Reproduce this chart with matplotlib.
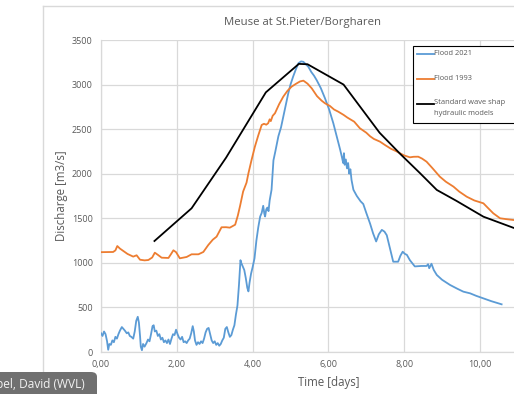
import matplotlib
matplotlib.use("Agg")
import matplotlib.pyplot as plt
from matplotlib.lines import Line2D
from matplotlib.patches import Rectangle, FancyBboxPatch
from matplotlib.ticker import FuncFormatter, MultipleLocator, FixedLocator

# ---- data ----
t2021 = [0.00, 0.04, 0.08, 0.12, 0.16, 0.19, 0.22, 0.26, 0.30, 0.34, 0.38, 0.42, 0.46, 0.50, 0.55, 0.59,
         0.63, 0.68, 0.72, 0.76, 0.80, 0.85, 0.89, 0.93, 0.97, 1.00, 1.03, 1.05, 1.08, 1.11, 1.15, 1.20,
         1.24, 1.28, 1.32, 1.36, 1.39, 1.42, 1.46, 1.50, 1.54, 1.58, 1.62, 1.66, 1.70, 1.74, 1.78, 1.82,
         1.86, 1.90, 1.94, 1.98, 2.02, 2.06, 2.10, 2.14, 2.18, 2.22, 2.26, 2.30, 2.34, 2.38, 2.42, 2.45,
         2.48, 2.52, 2.56, 2.60, 2.64, 2.68, 2.72, 2.76, 2.80, 2.84, 2.88, 2.92, 2.96, 3.00, 3.04, 3.08,
         3.12, 3.16, 3.20, 3.24, 3.28, 3.32, 3.36, 3.40, 3.44, 3.48, 3.52, 3.56, 3.60, 3.64, 3.68, 3.70,
         3.74, 3.78, 3.82, 3.86, 3.89, 3.92, 3.96, 4.00, 4.05, 4.10, 4.15, 4.20, 4.24, 4.28, 4.31, 4.33,
         4.36, 4.39, 4.42, 4.45, 4.50, 4.55, 4.60, 4.68, 4.75, 4.81, 4.88, 4.94, 5.00, 5.07, 5.14, 5.21,
         5.28, 5.34, 5.40, 5.47, 5.55, 5.62, 5.69, 5.80, 5.91, 6.02, 6.13, 6.22, 6.31, 6.36, 6.39, 6.41,
         6.43, 6.46, 6.49, 6.52, 6.55, 6.58, 6.61, 6.66, 6.75, 6.85, 6.92, 7.00, 7.10, 7.18, 7.26, 7.33,
         7.41, 7.48, 7.54, 7.62, 7.71, 7.84, 7.90, 7.96, 8.02, 8.07, 8.15, 8.28, 8.45, 8.59, 8.63, 8.66,
         8.72, 8.78, 8.86, 9.00, 9.21, 9.40, 9.56, 9.74, 9.90, 10.09, 10.30, 10.57]
q2021 = [210, 180, 230, 200, 120, 25, 90, 80, 130, 110, 170, 150, 200, 240, 280, 260,
         240, 210, 220, 180, 170, 150, 230, 350, 395, 330, 180, 60, 20, 90, 60, 100,
         140, 120, 200, 290, 300, 230, 240, 180, 200, 140, 160, 110, 130, 100, 140, 90,
         150, 200, 190, 250, 200, 160, 140, 170, 110, 120, 100, 130, 150, 210, 290, 230,
         130, 80, 110, 90, 120, 100, 150, 220, 260, 270, 200, 130, 100, 120, 80, 100,
         70, 90, 130, 160, 260, 280, 220, 170, 190, 250, 300, 420, 520, 750, 1030, 1000,
         960, 920, 830, 720, 680, 780, 880, 950, 1050, 1250, 1400, 1520, 1560, 1640, 1550, 1520,
         1600, 1620, 1580, 1700, 1820, 2150, 2250, 2420, 2520, 2640, 2780, 2900, 3000, 3090, 3170, 3240,
         3260, 3255, 3230, 3200, 3140, 3100, 3050, 2960, 2846, 2720, 2566, 2420, 2270, 2180, 2120, 2230,
         2100, 2160, 2060, 2120, 2000, 2050, 1930, 1820, 1750, 1690, 1660, 1560, 1440, 1330, 1240, 1320,
         1370, 1350, 1310, 1170, 1013, 1013, 1080, 1125, 1100, 1090, 1030, 960, 965, 965, 985, 940,
         990, 920, 864, 810, 752, 710, 677, 658, 630, 602, 570, 535]

t1993 = [0.00, 0.32, 0.38, 0.43, 0.50, 0.59, 0.70, 0.85, 0.94, 1.03, 1.15, 1.25, 1.35, 1.42, 1.50, 1.60,
         1.78, 1.85, 1.91, 1.98, 2.08, 2.26, 2.39, 2.57, 2.70, 2.83, 2.95, 3.05, 3.18, 3.30, 3.40, 3.54,
         3.61, 3.67, 3.75, 3.84, 3.89, 3.97, 4.06, 4.15, 4.24, 4.30, 4.36, 4.41, 4.45, 4.48, 4.53, 4.59,
         4.70, 4.81, 4.92, 5.03, 5.15, 5.25, 5.34, 5.45, 5.56, 5.70, 5.82, 5.91, 6.04, 6.15, 6.26, 6.40,
         6.50, 6.68, 6.83, 7.00, 7.10, 7.20, 7.36, 7.50, 7.65, 7.80, 7.89, 8.00, 8.15, 8.25, 8.37, 8.47,
         8.59, 8.75, 8.94, 9.10, 9.30, 9.45, 9.65, 9.85, 10.09, 10.20, 10.35, 10.53, 10.70, 10.90, 11.20]
q1993 = [1120, 1122, 1140, 1189, 1160, 1133, 1100, 1070, 1085, 1035, 1028, 1032, 1060, 1114, 1090, 1058,
         1055, 1100, 1141, 1120, 1051, 1066, 1096, 1096, 1122, 1200, 1260, 1294, 1399, 1400, 1395, 1428,
         1530, 1640, 1800, 1900, 2005, 2150, 2303, 2430, 2547, 2560, 2550, 2566, 2610, 2590, 2650, 2678,
         2780, 2865, 2930, 2977, 3010, 3035, 3044, 3010, 2958, 2870, 2820, 2790, 2760, 2720, 2696, 2660,
         2630, 2584, 2510, 2460, 2420, 2390, 2360, 2320, 2280, 2250, 2229, 2205, 2184, 2190, 2191, 2170,
         2135, 2060, 1967, 1910, 1855, 1800, 1742, 1700, 1668, 1620, 1556, 1500, 1490, 1480, 1470]

tstd = [1.41, 2.39, 3.30, 4.35, 5.22, 5.45, 6.40, 7.35, 7.90, 8.42, 8.86, 9.38, 10.09, 10.87, 11.50]
qstd = [1245, 1612, 2180, 2913, 3232, 3228, 3000, 2460, 2220, 2005, 1818, 1695, 1518, 1395, 1310]

xticks = [0, 2, 4, 6, 8, 10]
labels = ["Flood 2021", "Flood 1993", "Standard wave shap\nhydraulic models"]
title = "Meuse at St.Pieter/Borgharen"
xlabel = "Time [days]"
ylabel = "Discharge [m3/s]"
tag = "bel, David (WVL)"

C_BLUE = "#5B9BD5"
C_ORANGE = "#ED7D31"
C_BLACK = "#000000"
C_TEXT = "#595959"
C_GRID = "#D9D9D9"

plt.rcParams["font.family"] = ["Open Sans", "DejaVu Sans"]

W, H = 514, 394
fig = plt.figure(figsize=(W / 100, H / 100), dpi=100)
fig.patch.set_facecolor("white")

# chart-area border (left and top)
fig.add_artist(Line2D([43 / W, 43 / W], [0, 1 - 6 / H], color="#D9D9D9", lw=1.0))
fig.add_artist(Line2D([43 / W, 1.0], [1 - 6 / H, 1 - 6 / H], color="#D9D9D9", lw=1.0))

x0, x1 = 0, 12
px_per_day = 37.9
left = 101 / W
width = px_per_day * (x1 - x0) / W
bottom = (H - 352) / H
height = 312 / H
ax = fig.add_axes([left, bottom, width, height])

ax.plot(t2021, q2021, color=C_BLUE, lw=1.3, zorder=3)
ax.plot(t1993, q1993, color=C_ORANGE, lw=1.3, zorder=3)
ax.plot(tstd, qstd, color=C_BLACK, lw=1.3, zorder=4)

ax.set_xlim(x0, x1)
ax.set_ylim(0, 3500)
ax.xaxis.set_major_locator(FixedLocator(xticks))
ax.yaxis.set_major_locator(MultipleLocator(500))
ax.xaxis.set_major_formatter(FuncFormatter(lambda v, p: f"{v:.2f}".replace(".", ",")))
ax.yaxis.set_major_formatter(FuncFormatter(lambda v, p: f"{v:.0f}"))
ax.grid(True, color=C_GRID, lw=0.9, zorder=0)
ax.set_axisbelow(True)
for s in ["top", "right"]:
    ax.spines[s].set_visible(False)
for s in ["left", "bottom"]:
    ax.spines[s].set_color(C_GRID)
    ax.spines[s].set_linewidth(0.9)
ax.tick_params(length=0, labelsize=6.5, labelcolor=C_TEXT, pad=6)
ax.set_xlabel(xlabel, fontsize=8.3, color=C_TEXT, labelpad=5)
ax.set_ylabel(ylabel, fontsize=8.3, color=C_TEXT, labelpad=3)

fig.text(303 / W, 1 - 22 / H, title, ha="center", va="center", fontsize=8.2, color=C_TEXT)

# legend (drawn by hand, partly outside figure as in the reference)
fig.add_artist(Rectangle((413 / W, 1 - 122.5 / H), 120 / W, 76.5 / H, transform=fig.transFigure,
                         fill=True, facecolor="white", edgecolor="black", lw=0.8, zorder=10))
entries = [(C_BLUE, 54), (C_ORANGE, 79), (C_BLACK, 103.5)]
for (c, yy), lab in zip(entries, labels):
    fig.add_artist(Line2D([416.5 / W, 434 / W], [1 - yy / H, 1 - yy / H], color=c, lw=1.3, zorder=11))
    fig.text(434.5 / W, 1 - (yy - 4.0) / H, lab, ha="left", va="top", fontsize=5.4, color=C_TEXT,
             linespacing=1.75, zorder=11)

# name tag overlay bottom-left
fig.add_artist(FancyBboxPatch((-10 / W, -10 / H), 107 / W, 32 / H,
                              boxstyle="round,pad=0,rounding_size=0.012", transform=fig.transFigure,
                              facecolor="#707070", edgecolor="none", zorder=20))
fig.text(-4 / W, 1 - 384 / H, tag, ha="left", va="center", fontsize=8.6,
         color="#F2F2F2", zorder=21)

fig.savefig("out.png", dpi=100)
